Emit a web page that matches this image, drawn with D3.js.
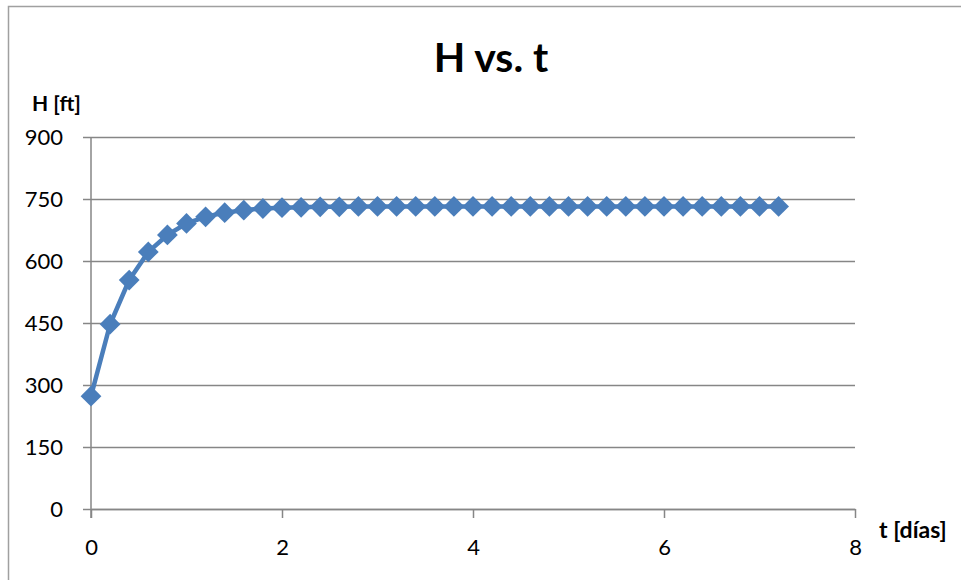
<!DOCTYPE html>
<html>
<head>
<meta charset="utf-8">
<script src="https://cdn.jsdelivr.net/npm/d3@7"></script>
<style>
  body { margin: 0; background: #fff; }
  svg text { font-family: Lato, "Open Sans", sans-serif; fill: #000; }
</style>
</head>
<body>
<div id="chart"></div>
<script>
const width = 961;
const height = 580;

// t [días] and H [ft]
const tValues = [0, 0.2, 0.4, 0.6, 0.8, 1.0, 1.2, 1.4, 1.6, 1.8, 2.0, 2.2, 2.4, 2.6, 2.8, 3.0,
  3.2, 3.4, 3.6, 3.8, 4.0, 4.2, 4.4, 4.6, 4.8, 5.0, 5.2, 5.4, 5.6, 5.8, 6.0, 6.2, 6.4, 6.6,
  6.8, 7.0, 7.2];
const hValues = [273, 447, 554, 622, 663, 691, 707, 717, 723, 727, 729, 730, 731, 731, 732, 732,
  732, 732, 732, 732, 732, 732, 732, 732, 732, 732, 732, 732, 732, 732, 732, 732, 732, 732,
  732, 732, 732];
const xTicks = [0, 2, 4, 6, 8];
const yTicks = [0, 150, 300, 450, 600, 750, 900];

const data = tValues.map((t, i) => ({ t, h: hValues[i] }));

const margin = { left: 91, right: 106, top: 137, bottom: 71 };

const x = d3.scaleLinear().domain([0, 8]).range([margin.left, width - margin.right]);
const y = d3.scaleLinear().domain([0, 900]).range([height - margin.bottom, margin.top]);

const svg = d3.select("#chart")
  .append("svg")
  .attr("width", width)
  .attr("height", height);

// chart area border
svg.append("rect")
  .attr("x", 8.5)
  .attr("y", 6.5)
  .attr("width", width)
  .attr("height", height)
  .attr("fill", "none")
  .attr("stroke", "#a0a0a0")
  .attr("stroke-width", 1.5);

// horizontal gridlines + y axis
const yAxis = d3.axisLeft(y)
  .tickValues(yTicks)
  .tickSize(-(x.range()[1] - x.range()[0]))
  .tickPadding(25);

const yg = svg.append("g")
  .attr("transform", `translate(${margin.left},0)`)
  .call(yAxis);
yg.select(".domain").remove();
yg.selectAll(".tick line")
  .attr("x1", -8)
  .attr("stroke", "#868686")
  .attr("stroke-width", 1.5);
yg.selectAll(".tick text")
  .attr("x", -28)
  .attr("font-size", 22)
  .attr("font-family", "Lato, sans-serif");

// vertical axis line
svg.append("line")
  .attr("x1", margin.left).attr("x2", margin.left)
  .attr("y1", y(900)).attr("y2", y(0) + 9)
  .attr("stroke", "#868686")
  .attr("stroke-width", 1.5);

// x axis
const xAxis = d3.axisBottom(x)
  .tickValues(xTicks)
  .tickSize(9)
  .tickSizeOuter(0)
  .tickPadding(21);

const xg = svg.append("g")
  .attr("transform", `translate(0,${y(0)})`)
  .call(xAxis);
xg.select(".domain")
  .attr("stroke", "#868686")
  .attr("stroke-width", 1.5);
xg.selectAll(".tick line")
  .attr("stroke", "#868686")
  .attr("stroke-width", 1.5);
xg.selectAll(".tick text")
  .attr("font-size", 22)
  .attr("font-family", "Lato, sans-serif");

// series line
const line = d3.line()
  .x(d => x(d.t))
  .y(d => y(d.h));

svg.append("path")
  .datum(data)
  .attr("fill", "none")
  .attr("stroke", "#4a7ebb")
  .attr("stroke-width", 4.5)
  .attr("stroke-linejoin", "round")
  .attr("d", line);

// diamond markers
const diamond = d3.symbol().type(d3.symbolDiamond2).size(275);

svg.append("g")
  .selectAll("path")
  .data(data)
  .join("path")
  .attr("transform", d => `translate(${x(d.t)},${y(d.h)})`)
  .attr("d", diamond)
  .attr("fill", "#4a7ebb");

// title
svg.append("text")
  .attr("x", 491)
  .attr("y", 72)
  .attr("text-anchor", "middle")
  .attr("font-size", 41)
  .attr("font-weight", "bold")
  .text("H vs. t");

// axis titles
svg.append("text")
  .attr("x", 32)
  .attr("y", 111)
  .attr("font-size", 21)
  .attr("font-weight", "bold")
  .text("H [ft]");

svg.append("text")
  .attr("x", 879)
  .attr("y", 538)
  .attr("font-size", 23)
  .attr("font-weight", "bold")
  .text("t [días]");
</script>
</body>
</html>
